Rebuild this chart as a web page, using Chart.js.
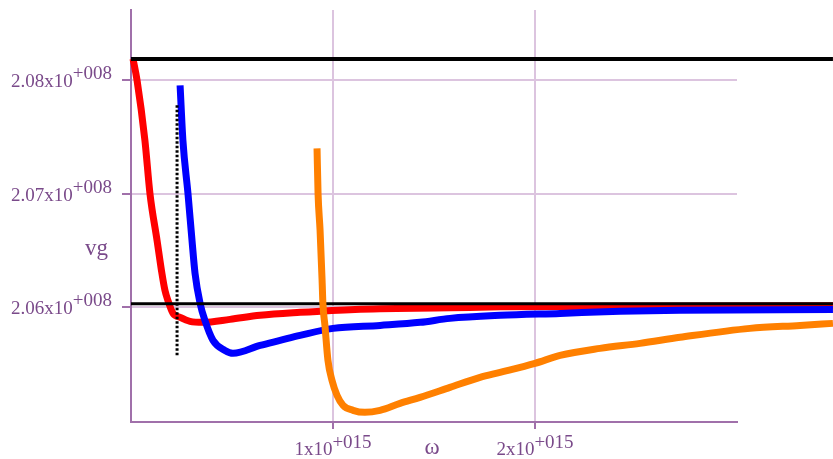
<!DOCTYPE html>
<html>
<head>
<meta charset="utf-8">
<script src="https://cdn.jsdelivr.net/npm/chart.js@4"></script>
<style>
  html, body { margin: 0; padding: 0; background: #fff; }
  canvas { display: block; }
</style>
</head>
<body>
<canvas id="graph" width="833" height="459"></canvas>
<script>
// omega values (rad/s) and group velocity vg (m/s)
var redOmega = [0.010e15, 0.030e15, 0.069e15, 0.094e15, 0.129e15, 0.153e15, 0.168e15, 0.183e15, 0.208e15, 0.243e15,
                0.292e15, 0.356e15, 0.490e15, 0.639e15, 0.837e15, 1.109e15, 1.579e15, 1.827e15, 2.322e15, 3.475e15];
var redVg = [2.0819e8, 2.0800e8, 2.0747e8, 2.0700e8, 2.0659e8, 2.0630e8, 2.0615e8, 2.0606e8, 2.05947e8, 2.05912e8,
             2.05877e8, 2.05868e8, 2.05894e8, 2.0593e8, 2.05956e8, 2.05982e8, 2.05996e8, 2.06005e8, 2.06009e8, 2.06015e8];

var blueOmega = [0.243e15, 0.257e15, 0.282e15, 0.302e15, 0.317e15, 0.342e15, 0.366e15, 0.406e15, 0.465e15, 0.505e15, 0.639e15,
                 0.738e15, 0.837e15, 1.0e15, 1.233e15, 1.431e15, 1.579e15, 1.827e15, 2.124e15, 2.421e15, 2.718e15, 3.475e15];
var blueVg = [2.07956e8, 2.07471e8, 2.07004e8, 2.0659e8, 2.0630e8, 2.06035e8, 2.05885e8, 2.05709e8, 2.05621e8, 2.05595e8, 2.05665e8,
              2.05709e8, 2.05753e8, 2.05815e8, 2.05841e8, 2.05868e8, 2.05903e8, 2.0593e8, 2.05947e8, 2.05965e8, 2.05974e8, 2.05982e8];

var orangeOmega = [0.921e15, 0.926e15, 0.936e15, 0.946e15, 0.950e15, 0.960e15, 0.975e15, 0.995e15, 1.020e15, 1.050e15, 1.099e15,
                   1.158e15, 1.233e15, 1.332e15, 1.431e15, 1.579e15, 1.728e15, 1.827e15, 2.0e15, 2.124e15, 2.322e15, 2.520e15,
                   2.718e15, 3.064e15, 3.312e15, 3.475e15];
var orangeVg = [2.07401e8, 2.07004e8, 2.06678e8, 2.06238e8, 2.06035e8, 2.05841e8, 2.05533e8, 2.05357e8, 2.05225e8, 2.05137e8, 2.05093e8,
                2.05075e8, 2.05093e8, 2.05154e8, 2.05207e8, 2.05295e8, 2.05383e8, 2.05427e8, 2.05507e8, 2.05577e8, 2.05639e8, 2.05683e8,
                2.05736e8, 2.05815e8, 2.05841e8, 2.05859e8];

// the two black limit lines and the dotted marker
var limitOmega = [0, 3.475e15];
var upperLimit = [2.08189e8, 2.08189e8];
var lowerLimit = [2.06031e8, 2.06031e8];
var cutoffOmega = [0.228e15, 0.228e15];
var cutoffVg = [2.0778e8, 2.05577e8];

// tick labels (mantissa + exponent shown raised)
var xTickValues = [1e15, 2e15];
var xTickMain = ["1x10", "2x10"];
var xTickSup = ["+015", "+015"];
var yTickValues = [2.06e8, 2.07e8, 2.08e8];
var yTickMain = ["2.06x10", "2.07x10", "2.08x10"];
var yTickSup = ["+008", "+008", "+008"];

var AXIS = "#a070aa";
var GRID = "#dcc4df";
var TEXT = "#7a4a8a";

function pts(xs, ys) {
    var out = [];
    for (var i = 0; i < xs.length; i++) out.push({x: xs[i], y: ys[i]});
    return out;
}

function curve(data, color, order) {
    return {
        data: data, borderColor: color, borderWidth: 7, pointRadius: 0,
        cubicInterpolationMode: "monotone", clip: false, order: order
    };
}

function fixedTicks(values) {
    return function(scale) {
        scale.ticks = values.map(function(v) { return {value: v}; });
    };
}

// draws the mathcad-style labels: "2.08x10" with "+008" raised after it
var labelPlugin = {
    id: "mathcadLabels",
    afterDraw: function(chart) {
        var ctx = chart.ctx;
        var xs = chart.scales.x, ys = chart.scales.y;
        ctx.save();
        ctx.fillStyle = TEXT;
        ctx.font = "19px 'Liberation Serif'";
        ctx.textBaseline = "alphabetic";
        ctx.textAlign = "left";

        for (var i = 0; i < yTickValues.length; i++) {
            var py = ys.getPixelForValue(yTickValues[i]) + 7;
            var wSup = ctx.measureText(yTickSup[i]).width;
            var wMain = ctx.measureText(yTickMain[i]).width;
            var right = 112;
            ctx.fillText(yTickMain[i], right - wSup - wMain, py);
            ctx.fillText(yTickSup[i], right - wSup, py - 8);
        }

        for (var j = 0; j < xTickValues.length; j++) {
            var px = xs.getPixelForValue(xTickValues[j]);
            var m = ctx.measureText(xTickMain[j]).width;
            var s = ctx.measureText(xTickSup[j]).width;
            var left = px - (m + s) / 2;
            ctx.fillText(xTickMain[j], left, 455);
            ctx.fillText(xTickSup[j], left + m, 448);
        }

        ctx.font = "23px 'Liberation Serif'";
        ctx.fillText("vg", 85, 255);
        ctx.textAlign = "center";
        ctx.fillText("\u03c9", xs.getPixelForValue(0.5 * (xTickValues[0] + xTickValues[1])) - 2, 454);
        ctx.restore();
    }
};

var ctx = document.getElementById("graph").getContext("2d");
var chart = new Chart(ctx, {
    type: "line",
    data: {
        datasets: [
            curve(pts(orangeOmega, orangeVg), "#ff8000", 0),
            {data: pts(cutoffOmega, cutoffVg), borderColor: "#000", borderWidth: 3, borderDash: [2.5, 2],
             pointRadius: 0, clip: false, order: 1},
            {data: pts(limitOmega, upperLimit), borderColor: "#000", borderWidth: 4, pointRadius: 0, clip: false, order: 2},
            {data: pts(limitOmega, lowerLimit), borderColor: "#000", borderWidth: 3, pointRadius: 0, clip: false, order: 2},
            curve(pts(blueOmega, blueVg), "#0000ff", 3),
            curve(pts(redOmega, redVg), "#ff0000", 4)
        ]
    },
    options: {
        responsive: false,
        animation: false,
        events: [],
        layout: {padding: {left: 122, top: 10, right: 96, bottom: 30}},
        plugins: {legend: {display: false}, tooltip: {enabled: false}},
        scales: {
            x: {
                type: "linear",
                afterDataLimits: function(scale) { scale.min = 0; scale.max = 3e15; },
                afterBuildTicks: fixedTicks(xTickValues),
                ticks: {display: false, stepSize: 1e15},
                grid: {color: GRID, lineWidth: 2, tickLength: 7, tickWidth: 2, tickColor: AXIS},
                border: {color: AXIS, width: 2}
            },
            y: {
                type: "linear",
                min: 2.0499e8,
                max: 2.0862e8,
                afterBuildTicks: fixedTicks(yTickValues),
                ticks: {display: false},
                grid: {color: GRID, lineWidth: 2, tickLength: 9, tickWidth: 2, tickColor: AXIS},
                border: {color: AXIS, width: 2}
            }
        }
    },
    plugins: [labelPlugin]
});
</script>
</body>
</html>
